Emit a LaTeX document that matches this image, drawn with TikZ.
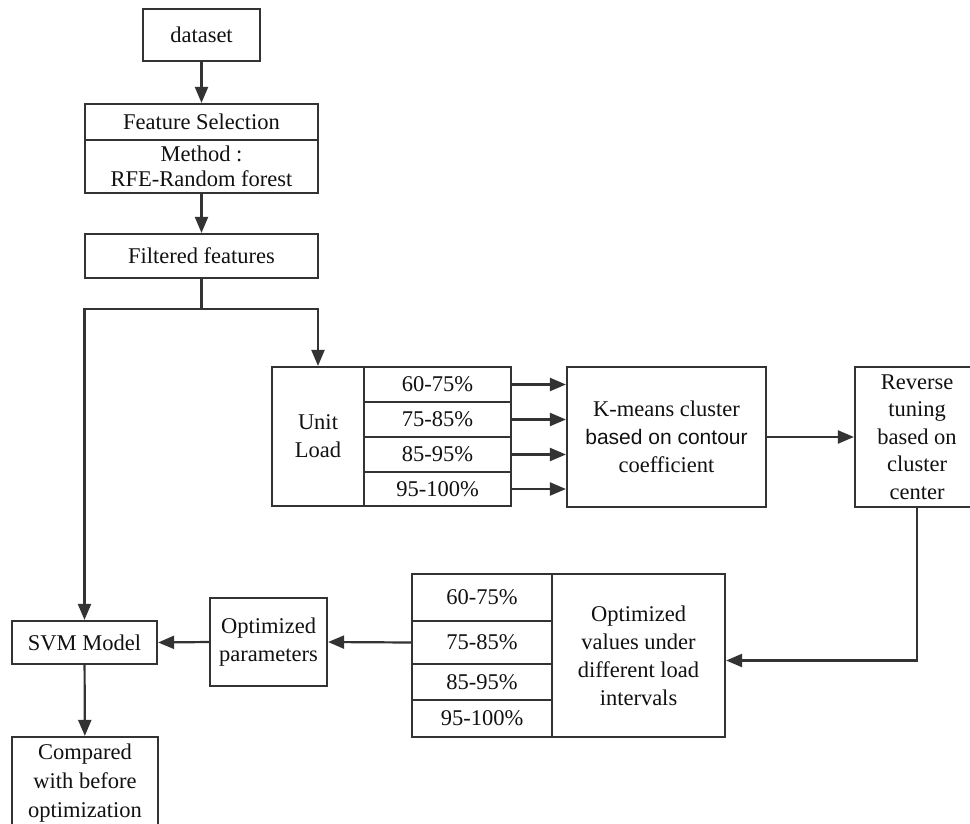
\documentclass[tikz,border=0pt]{standalone}
\usepackage{fontspec}
\setmainfont{Liberation Serif}
\newfontfamily\sansf{Liberation Sans}
\usetikzlibrary{arrows.meta}
\definecolor{linec}{HTML}{333333}
\definecolor{textc}{HTML}{111111}
\tikzset{
  box/.style={draw=linec, line width=2.2pt, inner sep=0pt, align=center, text=textc,
    font=\fontsize{22.5}{28}\selectfont},
  arr/.style={draw=linec, line width=2.2pt, -{Triangle[length=16pt,width=13pt]}},
  ln/.style={draw=linec, line width=2.2pt},
}
\begin{document}
\begin{tikzpicture}[x=1pt,y=-1pt]
\useasboundingbox (0,0) rectangle (970,823);
\fill[white] (0,0) rectangle (970,823);
\begin{scope}
\clip (0,0) rectangle (970,823);
% left column
\node[box, minimum width=117pt, minimum height=52pt] (dataset) at (201.5,35) {dataset};
\node[box, minimum width=233pt, minimum height=36pt] (fs1) at (201.5,122) {Feature Selection};
\node[box, minimum width=233pt, minimum height=53pt] (fs2) at (201.5,166.5) {Method :\\[-3pt]RFE-Random forest};
\node[box, minimum width=233pt, minimum height=44pt] (filt) at (201.5,256) {Filtered features};
% unit load block
\node[box, minimum width=92pt, minimum height=139pt] (unit) at (318,436.5) {Unit\\Load};
\node[box, minimum width=147pt, minimum height=35pt] (r1) at (437.5,384.5) {60-75\%};
\node[box, minimum width=147pt, minimum height=35pt] (r2) at (437.5,419.5) {75-85\%};
\node[box, minimum width=147pt, minimum height=35pt] (r3) at (437.5,454.5) {85-95\%};
\node[box, minimum width=147pt, minimum height=34pt] (r4) at (437.5,489) {95-100\%};
\node[box, minimum width=199pt, minimum height=140pt] (km) at (666.5,437) {K-means cluster\\{\sansf\fontsize{21}{27}\selectfont based on contour}\\coefficient};
\node[box, minimum width=124pt, minimum height=140pt, font=\fontsize{22.5}{27.5}\selectfont] (rev) at (917,437) {Reverse\\tuning\\based on\\cluster\\center};
% optimized values block
\node[box, minimum width=173pt, minimum height=163pt] (ov) at (638.5,655.5) {Optimized\\values under\\different load\\intervals};
\node[box, minimum width=140pt, minimum height=47pt] (o1) at (482,597.5) {60-75\%};
\node[box, minimum width=140pt, minimum height=43pt] (o2) at (482,642.5) {75-85\%};
\node[box, minimum width=140pt, minimum height=36pt] (o3) at (482,682) {85-95\%};
\node[box, minimum width=140pt, minimum height=37pt] (o4) at (482,718.5) {95-100\%};
\node[box, minimum width=117pt, minimum height=88pt] (par) at (268.5,642) {Optimized\\parameters};
\node[box, minimum width=145pt, minimum height=43pt] (svm) at (84.5,642.5) {SVM Model};
\node[box, minimum width=146pt, minimum height=93pt, font=\fontsize{22.5}{29}\selectfont] (comp) at (85,783.5) {Compared\\with before\\optimization};
% connectors
\draw[arr] (dataset) -- (fs1);
\draw[arr] (fs2) -- (filt);
\draw[ln] (filt.south) -- ++(0,30) coordinate (j);
\draw[arr] (j) -| (svm.north);
\draw[arr] (j) -| (unit.north);
\foreach \r in {r1,r2,r3,r4}{
  \draw[arr] (\r.east) -- (\r.east -| km.west);
}
\draw[arr] (km) -- (rev);
\draw[arr] (rev.south) |- ([yshift=-5pt]ov.east);
\draw[arr] (o2.west) -- (par.east);
\draw[arr] (par.west) -- (svm.east);
\draw[arr] (svm) -- (comp);
\end{scope}
\end{tikzpicture}
\end{document}
